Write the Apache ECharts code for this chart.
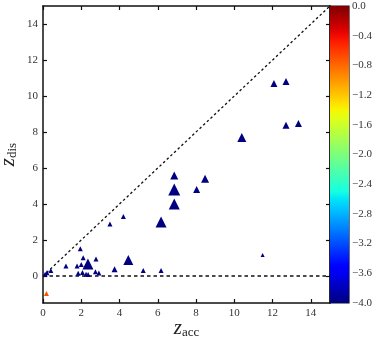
<!DOCTYPE html>
<html>
<head>
<meta charset="utf-8">
<script src="https://cdn.jsdelivr.net/npm/echarts@6/dist/echarts.min.js"></script>
<style>
  html, body { margin: 0; padding: 0; background: #fff; }
  #chart { width: 374px; height: 340px; }
</style>
</head>
<body>
<div id="chart"></div>
<script>
// z_acc, z_dis, colour value and marker size of each triangle
var zAcc = [12.07, 12.7, 12.7, 13.35, 10.39, 8.47, 8.03, 11.48, 6.86, 6.86, 6.86, 6.17,
  4.2, 3.5, 1.95, 2.1, 2.77, 2.35, 4.46, 1.2, 1.78, 2.0, 3.74, 5.24, 6.17,
  0.41, 0.21, 0.11, 1.84, 2.06, 2.25, 2.36, 2.74, 2.92, 0.18];
var zDis = [10.7, 10.8, 8.38, 8.47, 7.69, 5.4, 4.8, 1.16, 5.59, 4.8, 4.0, 3.0,
  3.31, 2.89, 1.51, 1.02, 0.95, 0.67, 0.89, 0.55, 0.55, 0.64, 0.37, 0.3, 0.3,
  0.31, 0.18, 0.1, 0.15, 0.2, 0.1, 0.09, 0.24, 0.17, -0.97];
var colorVal = [-4, -4, -4, -4, -4, -4, -4, -4, -4, -4, -4, -4,
  -4, -4, -4, -4, -4, -4, -4, -4, -4, -4, -4, -4, -4,
  -4, -4, -4, -4, -4, -4, -4, -4, -4, -0.7];
var markSize = [7, 7, 7, 7, 9, 8, 7, 4, 8, 12, 11, 11,
  5, 5, 5, 5, 5, 11, 10, 5, 5, 5, 6, 5, 5,
  5, 5, 5, 5, 5, 5, 5, 5, 5, 5];

// reference lines
var diagX = [0, 15], diagY = [0, 15];
var zeroX = [0, 15], zeroY = [0, 0];

var mainTicks = [0, 2, 4, 6, 8, 10, 12, 14];
var barTicks = [-4, -3.6, -3.2, -2.8, -2.4, -2, -1.6, -1.2, -0.8, -0.4, 0];

// matplotlib jet colormap
function jetPart(t, pts) {
  for (var i = 1; i < pts.length; i++) {
    if (t <= pts[i][0]) {
      var a = pts[i - 1], b = pts[i];
      return a[1] + (b[1] - a[1]) * (t - a[0]) / (b[0] - a[0]);
    }
  }
  return pts[pts.length - 1][1];
}
function jet(t) {
  var r = jetPart(t, [[0, 0], [0.35, 0], [0.66, 1], [0.89, 1], [1, 0.5]]);
  var g = jetPart(t, [[0, 0], [0.125, 0], [0.375, 1], [0.64, 1], [0.91, 0], [1, 0]]);
  var b = jetPart(t, [[0, 0.5], [0.11, 1], [0.34, 1], [0.65, 0], [1, 0]]);
  return 'rgb(' + Math.round(r * 255) + ',' + Math.round(g * 255) + ',' + Math.round(b * 255) + ')';
}
var jetColors = [], gradStops = [];
for (var i = 0; i <= 40; i++) {
  jetColors.push(jet(i / 40));
  gradStops.push({ offset: 1 - i / 40, color: jet(i / 40) });
}

var points = zAcc.map(function (x, i) { return [x, zDis[i], colorVal[i], markSize[i]]; });

var serif = 'Liberation Serif';
var tickLabel = { fontFamily: serif, fontSize: 11, color: '#333' };
var spine = { show: true, onZero: false, lineStyle: { color: '#111', width: 1.5 } };
var tickIn = { inside: true, length: 4, lineStyle: { color: '#111', width: 1.2 } };
var nameRich = {
  z: { fontFamily: serif, fontStyle: 'italic', fontSize: 21, color: '#222' },
  s: { fontFamily: serif, fontSize: 13, color: '#222', padding: [9, 0, 0, 0] }
};

var chart = echarts.init(document.getElementById('chart'));
chart.setOption({
  animation: false,
  grid: [
    { left: 43, top: 6, width: 287, height: 297, outerBoundsMode: 'none', containLabel: false },
    { left: 330, top: 6, width: 19, height: 297, outerBoundsMode: 'none', containLabel: false,
      show: true, borderColor: '#111', borderWidth: 1.2 }
  ],
  xAxis: [
    {
      type: 'value', gridIndex: 0, min: 0, max: 15, position: 'bottom',
      axisLine: spine, splitLine: { show: false },
      axisTick: Object.assign({ customValues: mainTicks }, tickIn),
      axisLabel: Object.assign({ customValues: mainTicks, margin: 5 }, tickLabel),
      name: '{z|z}{s|acc}', nameLocation: 'middle', nameGap: 14, nameMoveOverlap: false,
      nameTextStyle: { rich: nameRich }
    },
    {
      type: 'value', gridIndex: 0, min: 0, max: 15, position: 'top',
      axisLine: spine, splitLine: { show: false },
      axisTick: Object.assign({ customValues: mainTicks }, tickIn),
      axisLabel: { show: false }
    },
    {
      type: 'category', gridIndex: 1, data: ['c'], show: false
    }
  ],
  yAxis: [
    {
      type: 'value', gridIndex: 0, min: -1.5, max: 15, position: 'left',
      axisLine: spine, splitLine: { show: false },
      axisTick: Object.assign({ customValues: mainTicks }, tickIn),
      axisLabel: Object.assign({ customValues: mainTicks, margin: 5 }, tickLabel),
      name: '{z|z}{s|dis}', nameLocation: 'middle', nameGap: 24, nameMoveOverlap: false,
      nameTextStyle: { rich: nameRich }
    },
    {
      type: 'value', gridIndex: 0, min: -1.5, max: 15, position: 'right',
      axisLine: spine, splitLine: { show: false },
      axisTick: Object.assign({ customValues: mainTicks }, tickIn),
      axisLabel: { show: false }
    },
    {
      type: 'value', gridIndex: 1, min: -4, max: 0, position: 'right',
      axisLine: { show: false }, splitLine: { show: false },
      axisTick: { show: false },
      axisLabel: Object.assign({
        customValues: barTicks, margin: 3,
        formatter: function (v) { return v.toFixed(1).replace('-', '\u2212'); }
      }, tickLabel)
    }
  ],
  visualMap: {
    show: false, type: 'continuous', seriesIndex: 2, dimension: 2,
    min: -4, max: 0, inRange: { color: jetColors }
  },
  series: [
    {
      type: 'line', xAxisIndex: 0, yAxisIndex: 0, symbol: 'none', silent: true,
      data: diagX.map(function (x, i) { return [x, diagY[i]]; }),
      lineStyle: { color: '#111', width: 1.3, type: [2.5, 2.5] }
    },
    {
      type: 'line', xAxisIndex: 0, yAxisIndex: 0, symbol: 'none', silent: true,
      data: zeroX.map(function (x, i) { return [x, zeroY[i]]; }),
      lineStyle: { color: '#111', width: 1.3, type: [3.5, 3] }
    },
    {
      type: 'scatter', xAxisIndex: 0, yAxisIndex: 0, symbol: 'triangle',
      symbolSize: function (d) { return d[3]; },
      itemStyle: { opacity: 1 },
      data: points, z: 5
    },
    {
      type: 'bar', xAxisIndex: 2, yAxisIndex: 2, barWidth: '100%', silent: true,
      data: [-4],
      itemStyle: { color: new echarts.graphic.LinearGradient(0, 0, 0, 1, gradStops) }
    }
  ]
});
</script>
</body>
</html>
